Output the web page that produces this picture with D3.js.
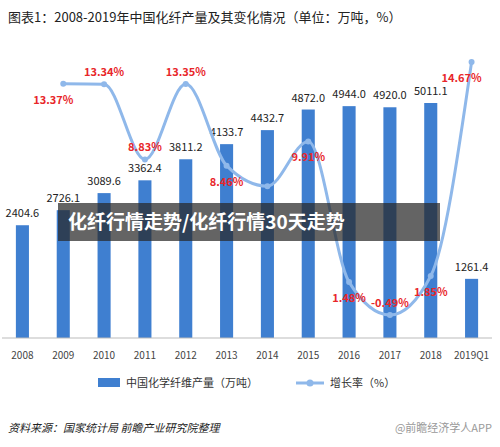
<!DOCTYPE html>
<html><head><meta charset="utf-8">
<script src="https://cdn.jsdelivr.net/npm/d3@7"></script>
<style>body{margin:0;background:#fff}svg{display:block;font-family:"Noto Sans CJK SC","Noto Sans",sans-serif}</style>
</head><body><svg id="c" width="500" height="447"></svg>
<script>
var years = ["2008","2009","2010","2011","2012","2013","2014","2015","2016","2017","2018","2019Q1"];
var output = [2404.6,2726.1,3089.6,3362.4,3811.2,4133.7,4432.7,4872.0,4944.0,4920.0,5011.1,1261.4];
var growth = [null,13.37,13.34,8.83,13.35,8.46,7.23,9.91,1.48,-0.49,1.85,14.67];
var growthLabels = [null,"13.37%","13.34%","8.83%","13.35%","8.46%","","9.91%","1.48%","-0.49%","1.85%","14.67%"];
var labelAbove = [false,false,true,true,true,false,false,false,false,true,false,false];

var svg = d3.select("svg#c");
var x = d3.scaleBand().domain(years).range([2, 492]).paddingInner(0.68).paddingOuter(0.34);
var y = d3.scaleLinear().domain([0, 5011.1]).range([338, 103]);
var y2 = d3.scaleLinear().domain([-0.49, 14.67]).range([315, 62]);

svg.append("text").attr("x", 8).attr("y", 22).attr("font-size", 13).attr("fill", "#222")
  .text("图表1：2008-2019年中国化纤产量及其变化情况（单位：万吨，%）");

// 柱
svg.selectAll("rect.bar").data(output).enter().append("rect").attr("class", "bar")
  .attr("x", function(d, i) { return x(years[i]); })
  .attr("width", x.bandwidth())
  .attr("y", function(d) { return y(d); })
  .attr("height", function(d) { return 338 - y(d); })
  .attr("fill", "#3f7fd0");
svg.selectAll("text.bv").data(output).enter().append("text").attr("class", "bv")
  .attr("x", function(d, i) { return x(years[i]) + x.bandwidth() / 2; })
  .attr("y", function(d) { return y(d) - 8; })
  .attr("text-anchor", "middle").attr("font-size", 11).attr("fill", "#222")
  .text(function(d) { return d.toFixed(1); });

// 轴
svg.append("line").attr("x1", 2).attr("x2", 492).attr("y1", 338).attr("y2", 338).attr("stroke", "#bbb");
svg.selectAll("text.xl").data(years).enter().append("text").attr("class", "xl")
  .attr("x", function(d) { return x(d) + x.bandwidth() / 2; }).attr("y", 359)
  .attr("text-anchor", "middle").attr("font-size", 10).attr("fill", "#444").text(function(d) { return d; });

// 线
var pts = growth.map(function(d, i) { return {v: d, i: i}; }).filter(function(p) { return p.v !== null; });
var cx = function(p) { return x(years[p.i]) + x.bandwidth() / 2; };
svg.append("path").datum(pts)
  .attr("d", d3.line().x(cx).y(function(p) { return y2(p.v); }).curve(d3.curveMonotoneX))
  .attr("fill", "none").attr("stroke", "#8fb8ea").attr("stroke-width", 3);
svg.selectAll("circle").data(pts).enter().append("circle")
  .attr("cx", cx).attr("cy", function(p) { return y2(p.v); }).attr("r", 3)
  .attr("fill", "#8fb8ea");
svg.selectAll("text.gl").data(pts).enter().append("text").attr("class", "gl")
  .attr("x", function(p) { return cx(p) + (p.i === 1 || p.i === 11 ? -10 : 0); })
  .attr("y", function(p) { return y2(p.v) + (labelAbove[p.i] ? -8 : 20); })
  .attr("text-anchor", "middle").attr("font-size", 11).attr("font-weight", "bold").attr("fill", "#e8262a")
  .text(function(p) { return growthLabels[p.i]; });

// 图例
svg.append("rect").attr("x", 98).attr("y", 378).attr("width", 22).attr("height", 9).attr("fill", "#3f7fd0");
svg.append("text").attr("x", 126).attr("y", 387).attr("font-size", 11).attr("fill", "#333").text("中国化学纤维产量（万吨）");
svg.append("line").attr("x1", 296).attr("x2", 324).attr("y1", 383).attr("y2", 383).attr("stroke", "#8fb8ea").attr("stroke-width", 3);
svg.append("circle").attr("cx", 310).attr("cy", 383).attr("r", 3.5).attr("fill", "#8fb8ea");
svg.append("text").attr("x", 330).attr("y", 387).attr("font-size", 11).attr("fill", "#333").text("增长率（%）");

svg.append("text").attr("x", 8).attr("y", 432).attr("font-size", 11).attr("font-style", "italic").attr("fill", "#222")
  .text("资料来源：国家统计局 前瞻产业研究院整理");
svg.append("text").attr("x", 492).attr("y", 432).attr("text-anchor", "end").attr("font-size", 11).attr("fill", "#999")
  .text("@前瞻经济学人APP");

// 横幅
svg.append("rect").attr("x", 58).attr("y", 203).attr("width", 382).attr("height", 38).attr("fill", "rgba(40,40,40,0.72)");
svg.append("text").attr("x", 68).attr("y", 229).attr("font-size", 19).attr("font-weight", "bold").attr("fill", "#fff")
  .text("化纤行情走势/化纤行情30天走势");
</script></body></html>
